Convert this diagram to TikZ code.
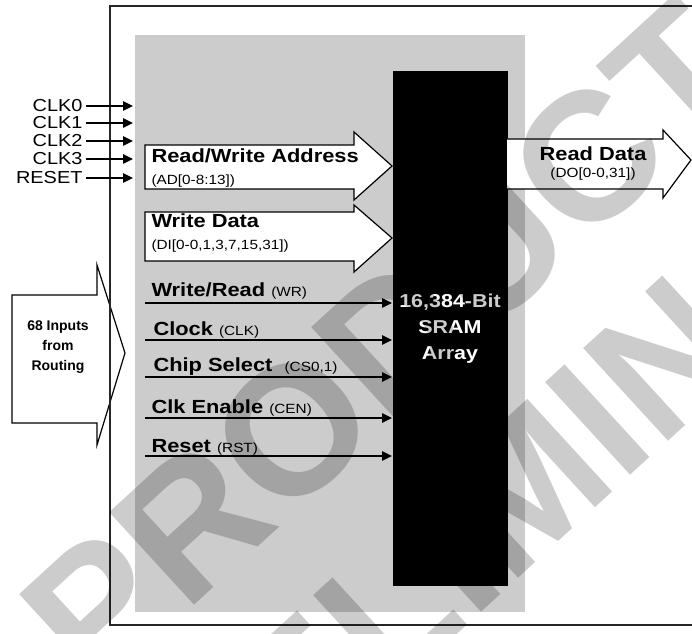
\documentclass[tikz,border=0pt]{standalone}
\usepackage{fontspec}
\setmainfont{Liberation Sans}[FakeStretch=1.15]
\newfontfamily\plainsans{Liberation Sans}
\usetikzlibrary{arrows.meta}

\tikzset{every picture/.style={line width=0.75pt}}
\tikzset{
  sig/.style={line width=1.1pt, -{Triangle[length=7.5pt,width=7pt]}},
  bus/.style={draw=black, fill=white, line width=0.9pt, line join=miter},
  lbl/.style={anchor=base west, inner sep=0pt, font=\fontsize{14.25pt}{16pt}\selectfont\bfseries},
  sub/.style={anchor=base west, inner sep=0pt, font=\fontsize{10pt}{12pt}\selectfont},
  pin/.style={anchor=east, inner sep=2.25pt, font=\fontsize{13pt}{14pt}\selectfont},
  watermark/.style={inner sep=0pt, text=black, opacity=0.2, rotate=42.5, font=\plainsans\fontsize{137pt}{137pt}\selectfont\bfseries},
}
\newcommand{\sml}[1]{{\fontsize{10pt}{12pt}\mdseries\selectfont #1}}

\begin{document}
\begin{tikzpicture}[x=0.75pt,y=0.75pt,yscale=-1,xscale=1]
\useasboundingbox (0,0) rectangle (692,634);
\clip (0,0) rectangle (692,634);

%Shape: Rectangle [id:core]
\fill [color={rgb, 255:red, 204; green, 204; blue, 204 }] (135,35) rectangle (525,612);

%Shape: Rectangle [id:sram]
\node (sram) [fill=black, text=white, anchor=north west, minimum width=86.25pt, minimum height=385.5pt, inner sep=0pt, align=center, font=\fontsize{14pt}{19.5pt}\selectfont\bfseries] at (392,71) {16,384-Bit\\SRAM\\Array};

%Shape: Arrow [id:inputs]
\draw [bus] (12,295) -- (97,295) -- (97,265) -- (125,353) -- (97,445) -- (97,423) -- (12,423) -- cycle ;
% Text Node
\node (inputs) [align=center, inner sep=0pt, font=\plainsans\fontsize{10.5pt}{15pt}\selectfont\bfseries] at (58,347) {68 Inputs\\from\\Routing};

%Shape: Frame [id:frame]
\draw [line width=1.1pt, color=black!85] (700,6) -- (110,6) -- (110,625) -- (700,625) ;

%Straight Lines [id:clk]
\node (clk0) [pin] at (86,106) {CLK0};
\node (clk1) [pin] at (86,123) {CLK1};
\node (clk2) [pin] at (86,141) {CLK2};
\node (clk3) [pin] at (86,159) {CLK3};
\node (rstg) [pin] at (86,178) {RESET};
\foreach \p in {clk0,clk1,clk2,clk3,rstg}
  \draw [sig] (\p.east) -- ++(47,0) ;

%Shape: Arrow [id:addr]
\draw [bus] (145,145) -- (354,145) -- (354,132) -- (392,166) -- (354,200) -- (354,189) -- (145,189) -- cycle ;
% Text Node
\node (addr) [lbl] at (151,163) {Read/Write Address};
\node (addrb) [sub] at (151,185) {(AD[0-8:13])};

%Shape: Arrow [id:wdata]
\draw [bus] (145,212) -- (354,212) -- (354,205) -- (392,238) -- (354,272) -- (354,261) -- (145,261) -- cycle ;
% Text Node
\node (wdata) [lbl] at (151,228) {Write Data};
\node (wdatab) [sub] at (151,250) {(DI[0-0,1,3,7,15,31])};

%Shape: Arrow [id:rdata]
\draw [bus] (507,139) -- (663,139) -- (663,130) -- (691,160) -- (663,198) -- (663,189) -- (507,189) ;
% Text Node
\node (rdata) [lbl, anchor=base] at (593,161) {Read Data};
\node (rdatab) [sub, anchor=base] at (593,178) {(DO[0-0,31])};

%Straight Lines [id:ctrl]
\coordinate (wr) at (145,303);
\coordinate (clk) at (145,340);
\coordinate (cs) at (145,377);
\coordinate (cen) at (145,418);
\coordinate (rst) at (145,456);
\foreach \c in {wr,clk,cs,cen,rst}
  \draw [sig] (\c) -- (\c -| sram.west) ;
% Text Node
\node (wrl) [lbl] at (151,297) {Write/Read \sml{(WR)}};
\node (clkl) [lbl] at (153,335) {Clock \sml{(CLK)}};
\node (csl) [lbl] at (153,372) {Chip Select \ \sml{(CS0,1)}};
\node (cenl) [lbl] at (151,413) {Clk Enable \sml{(CEN)}};
\node (rstl) [lbl] at (151,452) {Reset \sml{(RST)}};

%Watermark
\node (wm1) [watermark] at (386,344) {PRODUCT};
\node (wm2) [watermark] at (532,481) {PRELIMINARY};

\end{tikzpicture}
\end{document}
